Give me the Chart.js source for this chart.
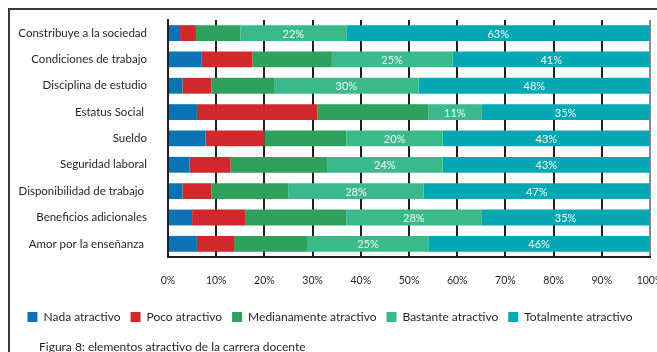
<!DOCTYPE html>
<html>
<head>
<meta charset="utf-8">
<script src="https://cdn.jsdelivr.net/npm/chart.js@4"></script>
<style>
  html, body { margin: 0; padding: 0; background: #fff; }
  #wrap { position: relative; width: 657px; height: 352px; overflow: hidden; }
  #frame { position: absolute; left: 8px; top: 8px; width: 700px; height: 400px;
           border-left: 2px solid #3a3a3a; border-top: 2px solid #3a3a3a; }
  #caption { position: absolute; left: 39px; top: 339px; font: 12px Lato, sans-serif; color: #231f20; }
  canvas { position: absolute; left: 0; top: 0; }
</style>
</head>
<body>
<div id="wrap">
  <div id="frame"></div>
  <canvas id="chart" width="657" height="352"></canvas>
  <div id="caption">Figura 8: elementos atractivo de la carrera docente</div>
</div>
<script>
const categories = [
  "Constribuye a la sociedad",
  "Condiciones de trabajo",
  "Disciplina de estudio",
  "Estatus Social ",
  "Sueldo",
  "Seguridad laboral",
  "Disponibilidad de trabajo ",
  "Beneficios adicionales",
  "Amor por la enseñanza "
];
const seriesNames = ["Nada atractivo", "Poco atractivo", "Medianamente atractivo", "Bastante atractivo", "Totalmente atractivo"];
const nada = [2.5, 7, 3, 6, 7.8, 4.5, 3, 5, 6];
const poco = [3.3, 10.5, 6, 25, 12.2, 8.5, 6, 11, 7.7];
const mediana = [9.2, 16.5, 13, 23, 17, 20, 16, 21, 15.3];
const bastante = [22, 25, 30, 11, 20, 24, 28, 28, 25];
const totalmente = [63, 41, 48, 35, 43, 43, 47, 35, 46];
const xTicks = [0, 10, 20, 30, 40, 50, 60, 70, 80, 90, 100];

const colors = ["#0b73b3", "#d0282b", "#2ea15c", "#3aba8b", "#04a8b3"];
const labelled = [3, 4]; // only these series carry value labels

const ink = "#231f20";

const barLabels = {
  id: "barLabels",
  afterDatasetsDraw(chart) {
    const ctx = chart.ctx;
    ctx.save();
    ctx.font = "11px Lato, sans-serif";
    ctx.fillStyle = "#f4fbf8";
    ctx.textAlign = "center";
    ctx.textBaseline = "middle";
    for (const di of labelled) {
      const meta = chart.getDatasetMeta(di);
      meta.data.forEach((bar, i) => {
        const v = chart.data.datasets[di].data[i];
        const x = (bar.x + bar.base) / 2;
        ctx.fillText(Math.round(v) + "%", x, bar.y + 1);
      });
    }
    ctx.restore();
  }
};

const allSeries = [nada, poco, mediana, bastante, totalmente];

new Chart(document.getElementById("chart"), {
  type: "bar",
  data: {
    labels: categories,
    datasets: allSeries.map((d, i) => ({
      label: seriesNames[i],
      data: d,
      backgroundColor: colors[i],
      borderWidth: 0,
      barPercentage: 0.6,
      categoryPercentage: 1
    }))
  },
  options: {
    indexAxis: "y",
    responsive: false,
    animation: false,
    layout: { padding: { left: 10, top: 12, right: 7, bottom: 19 } },
    scales: {
      x: {
        stacked: true,
        min: 0,
        max: 100,
        afterBuildTicks: (s) => { s.ticks = xTicks.map(v => ({ value: v })); },
        afterFit: (s) => { s.height = 44; s.paddingLeft = 0; s.paddingRight = 0; },
        ticks: {
          padding: 17,
          color: ink,
          font: { family: "Lato", size: 10.5 },
          callback: (v) => v + "%"
        },
        grid: {
          drawTicks: false,
          lineWidth: 2,
          color: (c) => (c.tick && c.tick.value === 100 ? "#8a8a8a" : ink)
        },
        border: { display: true, color: ink, width: 2 }
      },
      y: {
        stacked: true,
        afterFit: (s) => { s.width = 158; },
        grid: { display: false },
        border: { display: true, color: ink, width: 2 },
        ticks: {
          padding: 13,
          color: ink,
          font: { family: "Lato", size: 11.5 }
        }
      }
    },
    plugins: {
      legend: {
        position: "bottom",
        labels: {
          boxWidth: 10,
          boxHeight: 10,
          padding: 10,
          color: ink,
          font: { family: "Lato", size: 12 }
        }
      },
      tooltip: { enabled: false }
    }
  },
  plugins: [barLabels]
});
</script>
</body>
</html>
